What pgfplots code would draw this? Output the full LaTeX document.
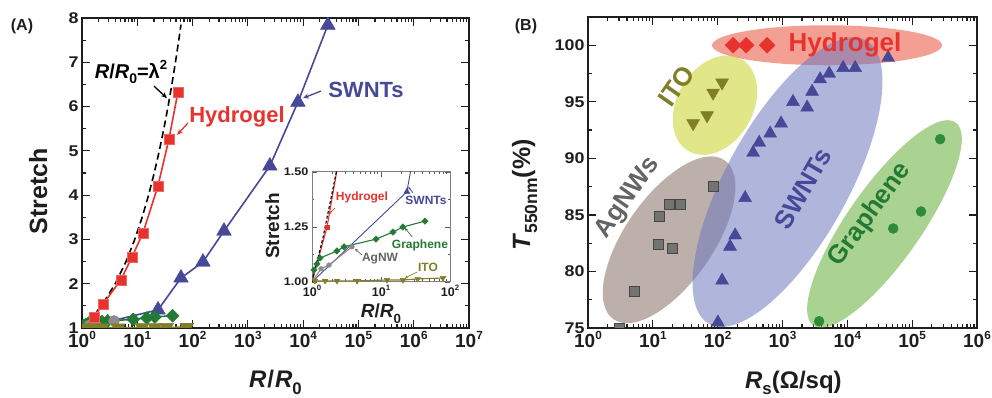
\documentclass[border=0pt]{standalone}
\usepackage{pgfplots}
\pgfplotsset{compat=1.18}
\usepackage{pgfplotstable}
\usepackage{graphicx}
\usepackage{fontspec}
\setmainfont{Liberation Sans}
\newfontfamily\tickfont{Liberation Sans}[FakeStretch=1.15]
\usetikzlibrary{arrows.meta}

\definecolor{hyd}{RGB}{232,50,45}
\definecolor{swnt}{RGB}{70,72,152}
\definecolor{gra}{RGB}{35,122,52}
\definecolor{agn}{RGB}{140,140,140}
\definecolor{ito}{RGB}{128,126,38}
\definecolor{axc}{RGB}{30,30,30}
\definecolor{hydE}{RGB}{235,80,60}
\definecolor{itoE}{RGB}{200,210,40}
\definecolor{agnE}{RGB}{135,110,100}
\definecolor{swntE}{RGB}{110,120,190}
\definecolor{graE}{RGB}{100,175,55}
\definecolor{graB}{RGB}{45,140,55}
\definecolor{sqB}{RGB}{115,115,112}
\definecolor{agnT}{RGB}{100,100,100}

\newcommand\fs[1]{\fontsize{#1}{#1}\selectfont}
\newcommand\tsup[1]{\raisebox{0.42em}{\scalebox{0.62}{#1}}}
\newcommand\lsup[1]{\raisebox{0.45em}{\scalebox{0.66}{#1}}}
\newcommand\tsub[1]{\raisebox{-0.28em}{\scalebox{0.7}{#1}}}
\newcommand\logtick{\pgfmathparse{int(round(\tick))}\edef\myexp{\pgfmathresult}10\tsup{\myexp}}

% ---------------- Panel A data ----------------
\pgfplotstableread{
x y
1 1
1.44 1.2
2.25 1.5
4 2
6.25 2.5
9 3
12.25 3.5
16 4
20.25 4.5
25 5
30.25 5.5
36 6
42.25 6.5
49 7
56.25 7.5
61.7 7.85
}\lamA
\pgfplotstableread{
x y
1 1
1.65 1.25
2.4 1.54
5.07 2.09
8.0 2.60
12.7 3.15
23.7 4.21
37.4 5.27
54.5 6.33
}\hydA
\pgfplotstableread{
x y
1 1
23.7 1.41
61.7 2.13
154 2.49
370 3.19
2500 4.66
8050 6.10
28000 7.84
}\swntA
\pgfplotstableread{
x y
1 1
1.07 1.055
1.18 1.082
1.31 1.109
2.30 1.141
2.91 1.16
8.47 1.195
14.9 1.227
20.8 1.25
43.4 1.277
}\graA
\pgfplotstableread{
x y
1 1
1.35 1.06
1.76 1.077
3.8 1.16
}\agnA
\pgfplotstableread{
x y
1 1.003
1.1 1.005
1.55 1.005
2.3 1.005
4.5 1.005
12.2 1.009
20.8 1.009
34 1.014
79 1.018
}\itoA

% ---------------- Panel B data ----------------
\pgfplotstableread{
x y
173 100
275 100
578 100
}\hydB
\pgfplotstableread{
x y
101 75.5
117 79.2
155 82.2
186 83.2
265 86.5
352 90.5
437 91.4
645 92.2
950 93.1
1450 95.0
2400 94.5
2860 95.9
3800 97.0
5240 97.5
8610 98.0
13200 98.0
42600 98.9
}\swntB
\pgfplotstableread{
x y
41.8 93.1
68.6 93.8
85 95.8
117 96.7
}\itoB
\pgfplotstableread{
x y
3.1 75
5.13 78.2
12.0 82.4
12.5 84.9
17.8 85.9
19.8 82.0
26.3 85.9
85 87.5
}\agnB
\pgfplotstableread{
x y
3670 75.6
51000 83.8
137000 85.3
270000 91.7
}\graB

\pgfkeys{/pgf/number format/assume math mode=true}

\begin{document}
\begin{tikzpicture}
\useasboundingbox (0,0) rectangle (992pt,398pt);

\node[font=\bfseries\fs{16}, text=axc] at (22pt,372pt) {(A)};
\node[font=\bfseries\fs{16}, text=axc] at (526pt,372pt) {(B)};

% ================= Panel A main =================
\begin{axis}[
  scale only axis,
  axis line style={line width=1.6pt, color=axc},
  major tick style={line width=1.2pt, color=axc},
  minor tick style={line width=1.2pt, color=axc},
  major tick length=8pt, minor tick length=4pt,
  tick align=inside,
  xmode=log, log basis x=10,
  clip marker paths=true,
  yticklabel style={font=\tickfont\bfseries\fs{15.5}, text=axc},
  xticklabel style={font=\bfseries\fs{19}, text=axc},
  xticklabel={\logtick},
  label style={font=\bfseries\fs{25}, text=axc},
  minor xtick={2,3,4,5,6,7,8,9,20,30,40,50,60,70,80,90,200,300,400,500,600,700,800,900,2e3,3e3,4e3,5e3,6e3,7e3,8e3,9e3,2e4,3e4,4e4,5e4,6e4,7e4,8e4,9e4,2e5,3e5,4e5,5e5,6e5,7e5,8e5,9e5,2e6,3e6,4e6,5e6,6e6,7e6,8e6,9e6},
  at={(82pt,70pt)}, anchor=south west, width=387pt, height=310pt,
  xmin=1, xmax=1e7, ymin=1, ymax=8,
  xtick={1,10,100,1e3,1e4,1e5,1e6,1e7},
  ytick={1,2,...,8}, minor ytick={1.5,2.5,...,7.5},
  xlabel={\textit{R}\kern1pt/\kern1pt\textit{R}\tsub{0}},
  ylabel={Stretch},
  xlabel style={at={(axis description cs:0.5,-0.193)}, anchor=base, inner sep=0pt, font=\bfseries\fs{24}},
  ylabel style={at={(axis description cs:-0.090,0.442)}, anchor=base},
]
\addplot[black, line width=1.6pt, dash pattern=on 7pt off 4pt] table {\lamA};
\addplot[swnt, line width=1.6pt] table {\swntA};
\addplot[gra, line width=1.6pt] table {\graA};
\addplot[agn, line width=1.6pt] table {\agnA};
\addplot[ito, line width=1.6pt] table {\itoA};
\addplot[hyd, line width=1.6pt] table {\hydA};
\addplot[only marks, mark=triangle*, mark size=8.5pt, mark options={fill=swnt, draw=swnt}, skip coords between index={0}{1}] table {\swntA};
\addplot[only marks, mark=square*, mark size=4.6pt, mark options={rotate=45, fill=gra, draw=gra}, skip coords between index={0}{1}] table {\graA};
\addplot[only marks, mark=*, mark size=5.5pt, mark options={fill=agn, draw=agn}, skip coords between index={0}{1}] table {\agnA};
\addplot[only marks, mark=triangle*, mark size=8pt, mark options={rotate=180, fill=ito, draw=ito}, skip coords between index={0}{1}] table {\itoA};
\addplot[only marks, mark=square*, mark size=5pt, mark options={fill=hyd, draw=hyd!75!white}, skip coords between index={0}{1}] table {\hydA};

\node[font=\bfseries\fs{20}, text=black] at (axis cs:7.7,6.78) {\textit{R}/\textit{R}\tsub{0}=λ\lsup{2}};
\draw[-{Stealth[length=6pt,width=5pt]}, line width=1.3pt, black] (axis cs:20.1,6.46) -- (axis cs:34.4,6.19);
\node[font=\bfseries\fs{22}, text=hyd] at (axis cs:636,5.76) {Hydrogel};
\draw[-{Stealth[length=6pt,width=5pt]}, line width=1.3pt, hyd] (axis cs:82.6,5.63) -- (axis cs:52.3,5.36);
\node[font=\bfseries\fs{22}, text=swnt] at (axis cs:137000,6.37) {SWNTs};
\draw[-{Stealth[length=6pt,width=5pt]}, line width=1.3pt, swnt] (axis cs:21000,6.35) -- (axis cs:9930,6.19);
\end{axis}

% ================= Inset =================
\begin{axis}[
  scale only axis,
  axis line style={line width=1pt, color=gray},
  major tick style={line width=0.8pt, color=gray!70!black},
  minor tick style={line width=0.8pt, color=gray!70!black},
  major tick length=5pt, minor tick length=2.5pt,
  tick align=inside,
  xmode=log, log basis x=10,
  xticklabel={\logtick},
  axis background/.style={fill=white},
  at={(312pt,116pt)}, anchor=south west, width=138pt, height=110pt,
  xmin=1, xmax=100, ymin=1, ymax=1.5,
  xtick={1,10,100}, minor xtick={2,3,4,5,6,7,8,9,20,30,40,50,60,70,80,90},
  ytick={1,1.25,1.5}, minor ytick={1.125,1.375},
  yticklabel style={/pgf/number format/.cd, fixed, fixed zerofill, precision=2},
  tick label style={font=\tickfont\bfseries\fs{11}, text=axc},
  xticklabel style={font=\bfseries\fs{12.5}},
  label style={font=\bfseries\fs{19}, text=axc},
  xlabel={\textit{R}/\textit{R}\tsub{0}},
  ylabel={Stretch},
  xlabel style={at={(axis description cs:0.5,-0.327)}, anchor=base},
  ylabel style={at={(axis description cs:-0.239,0.509)}, anchor=base},
]
\addplot[swnt, line width=0.9pt] table {\swntA};
\addplot[gra, line width=1.1pt] table {\graA};
\addplot[agn, line width=1.1pt] table {\agnA};
\addplot[ito, line width=1.1pt] table {\itoA};
\addplot[hyd, line width=1.1pt] table {\hydA};
\addplot[black, line width=1.1pt, dash pattern=on 3pt off 2pt] table {\lamA};
\addplot[only marks, mark=triangle*, mark size=3.5pt, mark options={fill=swnt, draw=swnt}, skip coords between index={0}{1}] table {\swntA};
\addplot[only marks, mark=square*, mark size=2.3pt, mark options={rotate=45, fill=gra, draw=gra}, skip coords between index={0}{1}] table {\graA};
\addplot[only marks, mark=*, mark size=2.4pt, mark options={fill=agn, draw=agn}, skip coords between index={0}{1}] table {\agnA};
\addplot[only marks, mark=triangle*, mark size=3.3pt, mark options={rotate=180, fill=ito, draw=ito}, skip coords between index={0}{1}] table {\itoA};
\addplot[only marks, mark=square*, mark size=1.8pt, mark options={fill=hyd, draw=hyd}, skip coords between index={0}{1}] table {\hydA};

\node[font=\bfseries\fs{12}, text=hyd] at (axis cs:5.3,1.386) {Hydrogel};
\draw[-{Stealth[length=3pt,width=3pt]}, line width=0.7pt, hyd] (axis cs:2.15,1.336) -- (axis cs:1.76,1.309);
\node[font=\bfseries\fs{12}, text=swnt] at (axis cs:44.9,1.373) {SWNTs};
\draw[-{Stealth[length=3pt,width=3pt]}, line width=0.7pt, swnt] (axis cs:29.1,1.405) -- (axis cs:24.9,1.432);
\node[font=\bfseries\fs{12}, text=gra] at (axis cs:36.7,1.168) {Graphene};
\draw[-{Stealth[length=3pt,width=3pt]}, line width=0.7pt, gra] (axis cs:28.3,1.205) -- (axis cs:22.3,1.245);
\node[font=\bfseries\fs{12}, text=agnT] at (axis cs:9.68,1.105) {AgNW};
\draw[-{Stealth[length=3pt,width=3pt]}, line width=0.7pt, agnT] (axis cs:5.3,1.123) -- (axis cs:4.2,1.15);
\node[font=\bfseries\fs{12}, text=ito] at (axis cs:48,1.068) {ITO};
\draw[-{Stealth[length=3pt,width=3pt]}, line width=0.7pt, ito] (axis cs:33.2,1.045) -- (axis cs:22.3,1.018);
\end{axis}

% ================= Panel B =================
\begin{axis}[
  scale only axis,
  axis line style={line width=1.6pt, color=axc},
  major tick style={line width=1.2pt, color=axc},
  minor tick style={line width=1.2pt, color=axc},
  major tick length=8pt, minor tick length=4pt,
  tick align=inside,
  xmode=log, log basis x=10,
  clip marker paths=true,
  yticklabel style={font=\tickfont\bfseries\fs{15.5}, text=axc},
  xticklabel style={font=\bfseries\fs{19}, text=axc},
  xticklabel={\logtick},
  label style={font=\bfseries\fs{25}, text=axc},
  minor xtick={2,3,4,5,6,7,8,9,20,30,40,50,60,70,80,90,200,300,400,500,600,700,800,900,2e3,3e3,4e3,5e3,6e3,7e3,8e3,9e3,2e4,3e4,4e4,5e4,6e4,7e4,8e4,9e4,2e5,3e5,4e5,5e5,6e5,7e5,8e5,9e5},
  at={(588pt,70pt)}, anchor=south west, width=389pt, height=311pt,
  xmin=1, xmax=1e6, ymin=75, ymax=102.5,
  xtick={1,10,100,1e3,1e4,1e5,1e6},
  ytick={75,80,...,100}, minor ytick={77.5,82.5,...,97.5},
  xlabel={\textit{R}\tsub{s}(Ω/sq)},
  ylabel={\textit{T}\tsub{550nm}(\%)},
  xlabel style={at={(axis description cs:0.528,-0.193)}, anchor=base, inner sep=0pt, font=\bfseries\fs{24}},
  ylabel style={at={(axis description cs:-0.149,0.428)}, anchor=base},
]
\fill[hydE, fill opacity=0.55] (axis cs:4860,100) ellipse [x radius=115pt, y radius=20pt];
\fill[itoE, fill opacity=0.55, rotate around={60:(axis cs:91,94.7)}] (axis cs:91,94.7) ellipse [x radius=53pt, y radius=38pt];
\fill[agnE, fill opacity=0.55, rotate around={55:(axis cs:17.8,82.8)}] (axis cs:17.8,82.8) ellipse [x radius=97pt, y radius=44pt];
\fill[swntE, fill opacity=0.55, rotate around={61:(axis cs:1195,87.9)}] (axis cs:1195,87.9) ellipse [x radius=162pt, y radius=61pt];
\fill[graE, fill opacity=0.55, rotate around={55:(axis cs:37400,84.2)}] (axis cs:37400,84.2) ellipse [x radius=124pt, y radius=37pt];

\addplot[only marks, mark=square*, mark size=5pt, mark options={fill=sqB, draw=agnT!70!black, line width=0.8pt}] table {\agnB};
\addplot[only marks, mark=triangle*, mark size=7.5pt, mark options={rotate=180, fill=ito, draw=ito}] table {\itoB};
\addplot[only marks, mark=triangle*, mark size=7.5pt, mark options={fill=swnt, draw=swnt}] table {\swntB};
\addplot[only marks, mark=*, mark size=5pt, mark options={fill=graB, draw=graB}] table {\graB};
\addplot[only marks, mark=square*, mark size=5.6pt, mark options={rotate=45, fill=hyd, draw=hyd}] table {\hydB};

\node[font=\bfseries\fs{26}, text=hyd] at (axis cs:9200,100) {Hydrogel};
\node[font=\bfseries\fs{26}, text=ito, rotate=55] at (axis cs:22.8,96.4) {ITO};
\node[font=\bfseries\fs{26}, text=agnT, rotate=55] at (axis cs:4.14,86.5) {AgNWs};
\node[font=\bfseries\fs{26}, text=swnt, rotate=60] at (axis cs:2070,87.3) {SWNTs};
\node[font=\bfseries\fs{26}, text=gra, rotate=54] at (axis cs:22400,85.0) {Graphene};
\end{axis}
\end{tikzpicture}
\end{document}
